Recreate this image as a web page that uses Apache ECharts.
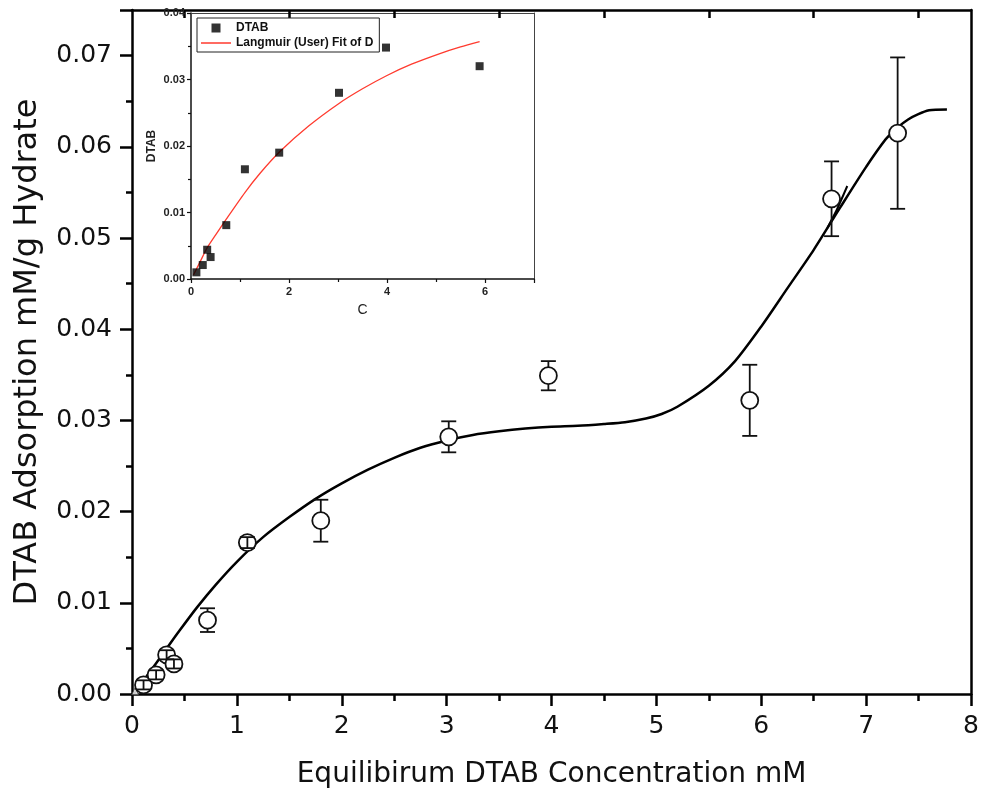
<!DOCTYPE html>
<html>
<head>
<meta charset="utf-8">
<script src="https://cdn.jsdelivr.net/npm/echarts@6/dist/echarts.min.js"></script>
<style>
html,body{margin:0;padding:0;background:#fff;}
#chart{width:982px;height:798px;}
</style>
</head>
<body>
<div id="chart"></div>
<script>
// ---- Main plot data ----
const concMM     = [0.11, 0.23, 0.33, 0.40, 0.72, 1.10, 1.80, 3.02, 3.97, 5.89, 6.67, 7.30];
const adsorption = [0.0010, 0.0021, 0.0043, 0.0033, 0.0081, 0.0166, 0.0190, 0.0282, 0.0349, 0.0322, 0.0543, 0.0615];
const adsErr     = [0.0005, 0.0005, 0.0005, 0.0005, 0.0013, 0.0006, 0.0023, 0.0017, 0.0016, 0.0039, 0.0041, 0.0083];

// main fitted curve (black)
const fitX = [0.02, 0.15, 0.30, 0.45, 0.62, 0.80, 1.00, 1.25, 1.50, 1.75, 2.00, 2.25, 2.50, 2.75, 3.00, 3.25, 3.50, 3.75, 4.00, 4.25, 4.50, 4.70, 4.90, 5.05, 5.20, 5.50, 5.75, 6.00, 6.25, 6.50, 6.75, 7.00, 7.20, 7.40, 7.60, 7.77];
const fitY = [0.0000, 0.0021, 0.0045, 0.0069, 0.0095, 0.0120, 0.0145, 0.0172, 0.0194, 0.0214, 0.0231, 0.0246, 0.0259, 0.0270, 0.0278, 0.0284, 0.0288, 0.0291, 0.0293, 0.0294, 0.0296, 0.0298, 0.0302, 0.0307, 0.0315, 0.0338, 0.0365, 0.0403, 0.0445, 0.0487, 0.0533, 0.0578, 0.0610, 0.0630, 0.0640, 0.0641];
// short second fit segment near x = 6.7
const fit2X = [6.63, 6.72, 6.82];
const fit2Y = [0.0511, 0.0531, 0.0557];
// tiny triangle marker at origin
const originX = [0.03];
const originY = [0.0003];

// ---- Inset data ----
const insetC    = [0.11, 0.24, 0.33, 0.40, 0.72, 1.10, 1.80, 3.02, 3.98, 5.89];
const insetDTAB = [0.0010, 0.0021, 0.0044, 0.0033, 0.0081, 0.0165, 0.0190, 0.0280, 0.0348, 0.0320];
const langX = [0.05, 0.20, 0.33, 0.50, 0.72, 1.10, 1.41, 1.82, 2.40, 3.02, 3.50, 4.00, 4.50, 5.08, 5.50, 5.89];
const langY = [0.0006, 0.0028, 0.0047, 0.0066, 0.0090, 0.0130, 0.0159, 0.0192, 0.0230, 0.0264, 0.0286, 0.0306, 0.0323, 0.0339, 0.0349, 0.0357];

// ---- Tick labels ----
const mainXTicks = [0, 1, 2, 3, 4, 5, 6, 7, 8];
const mainYTicks = ['0.00', '0.01', '0.02', '0.03', '0.04', '0.05', '0.06', '0.07'];

const zip = (a, b) => a.map((v, i) => [v, b[i]]);

const chart = echarts.init(document.getElementById('chart'), null, {renderer: 'canvas'});

const mainFont = 'DejaVu Sans';
const insetFont = 'Liberation Sans';
const axisLineMain = {show: true, onZero: false, lineStyle: {color: '#000', width: 2.5}};

const option = {
  animation: false,
  backgroundColor: '#fff',
  grid: [
    {left: 132, right: 10, top: 10, bottom: 104, containLabel: false},
    {left: 191, right: 448, top: 13, bottom: 519, containLabel: false}
  ],
  legend: {
    orient: 'vertical',
    left: 197, top: 18,
    padding: [4, 6, 3, 4],
    itemGap: 3,
    itemWidth: 30, itemHeight: 9,
    borderColor: '#222', borderWidth: 1,
    textStyle: {fontFamily: insetFont, fontSize: 12, fontWeight: 'bold', color: '#111'},
    data: [
      {name: 'DTAB', icon: 'path://M0 0H10V10H0Z'},
      {name: 'Langmuir (User) Fit of D', icon: 'path://M0 0H0.01V0.01H0Z M0 3.8H30V5.2H0Z M0 8.99H0.01V9H0Z'}
    ]
  },
  xAxis: [
    { // main bottom
      type: 'value', gridIndex: 0, min: 0, max: 8, interval: 1, position: 'bottom',
      name: 'Equilibirum DTAB Concentration mM', nameLocation: 'middle', nameGap: 67,
      nameTextStyle: {fontFamily: mainFont, fontSize: 28, color: '#111'},
      axisLine: axisLineMain,
      axisTick: {show: true, length: 12, lineStyle: {color: '#000', width: 2.5}},
      minorTick: {show: true, splitNumber: 2, length: 7, lineStyle: {color: '#000', width: 2.5}},
      axisLabel: {margin: 20, fontFamily: mainFont, fontSize: 25, color: '#111',
        formatter: v => (mainXTicks.indexOf(v) >= 0 ? String(v) : '')},
      splitLine: {show: false}
    },
    { // main top
      type: 'value', gridIndex: 0, min: 0, max: 8, interval: 1, position: 'top',
      axisLine: axisLineMain,
      axisTick: {show: false, inside: true},
      minorTick: {show: true, splitNumber: 2, length: 8, lineStyle: {color: '#000', width: 2.5}},
      axisLabel: {show: false}, splitLine: {show: false}
    },
    { // inset bottom
      type: 'value', gridIndex: 1, min: 0, max: 7, interval: 2, position: 'bottom',
      name: 'C', nameLocation: 'middle', nameGap: 24,
      nameTextStyle: {fontFamily: insetFont, fontSize: 14, color: '#222'},
      axisLine: {show: true, onZero: false, lineStyle: {color: '#111', width: 1.5}},
      axisTick: {show: true, length: 4, lineStyle: {color: '#111', width: 1.2}},
      minorTick: {show: true, splitNumber: 2, length: 3, lineStyle: {color: '#111', width: 1.2}},
      axisLabel: {margin: 7, fontFamily: insetFont, fontSize: 11, fontWeight: 'bold', color: '#222', showMaxLabel: false},
      splitLine: {show: false}
    },
    { // inset top
      type: 'value', gridIndex: 1, min: 0, max: 7, interval: 2, position: 'top',
      axisLine: {show: true, onZero: false, lineStyle: {color: '#444', width: 1}},
      axisTick: {show: false}, axisLabel: {show: false}, splitLine: {show: false}
    }
  ],
  yAxis: [
    { // main left
      type: 'value', gridIndex: 0, min: 0, max: 0.075, interval: 0.01, position: 'left',
      name: 'DTAB Adsorption mM/g Hydrate', nameLocation: 'middle', nameGap: 88,
      nameTextStyle: {fontFamily: mainFont, fontSize: 32, color: '#111'},
      axisLine: axisLineMain,
      axisTick: {show: true, length: 12, lineStyle: {color: '#000', width: 2.5}},
      minorTick: {show: true, splitNumber: 2, length: 6, lineStyle: {color: '#000', width: 2.5}},
      axisLabel: {margin: 20, fontFamily: mainFont, fontSize: 25, color: '#111', showMaxLabel: false,
        formatter: v => { const s = v.toFixed(2); return mainYTicks.indexOf(s) >= 0 ? s : ''; }},
      splitLine: {show: false}
    },
    { // main right
      type: 'value', gridIndex: 0, min: 0, max: 0.075, interval: 0.01, position: 'right',
      axisLine: axisLineMain,
      axisTick: {show: false}, axisLabel: {show: false}, splitLine: {show: false}
    },
    { // inset left
      type: 'value', gridIndex: 1, min: 0, max: 0.04, interval: 0.01, position: 'left',
      name: 'DTAB', nameLocation: 'middle', nameGap: 33,
      nameTextStyle: {fontFamily: insetFont, fontSize: 12, fontWeight: 'bold', color: '#222'},
      axisLine: {show: true, onZero: false, lineStyle: {color: '#111', width: 1.5}},
      axisTick: {show: true, length: 4, lineStyle: {color: '#111', width: 1.2}},
      minorTick: {show: true, splitNumber: 2, length: 3, lineStyle: {color: '#111', width: 1.2}},
      axisLabel: {margin: 6, fontFamily: insetFont, fontSize: 11, fontWeight: 'bold', color: '#222',
        formatter: v => v.toFixed(2)},
      splitLine: {show: false}
    },
    { // inset right
      type: 'value', gridIndex: 1, min: 0, max: 0.04, position: 'right',
      axisLine: {show: true, onZero: false, lineStyle: {color: '#444', width: 1}},
      axisTick: {show: false}, axisLabel: {show: false}, splitLine: {show: false}
    }
  ],
  series: [
    {
      name: 'fit', type: 'line', xAxisIndex: 0, yAxisIndex: 0,
      data: zip(fitX, fitY), smooth: 0.25, showSymbol: false, symbol: 'none',
      lineStyle: {color: '#000', width: 2.5}, z: 2
    },
    {
      name: 'fit2', type: 'line', xAxisIndex: 0, yAxisIndex: 0,
      data: zip(fit2X, fit2Y), smooth: 0.25, showSymbol: false, symbol: 'none',
      lineStyle: {color: '#000', width: 2}, z: 2
    },
    {
      name: 'origin', type: 'scatter', xAxisIndex: 0, yAxisIndex: 0,
      data: zip(originX, originY), symbol: 'triangle', symbolSize: 7,
      itemStyle: {color: '#fff', borderColor: '#333', borderWidth: 1}, z: 3
    },
    {
      name: 'points', type: 'scatter', xAxisIndex: 0, yAxisIndex: 0,
      data: zip(concMM, adsorption), symbol: 'circle', symbolSize: 17,
      itemStyle: {color: '#fff', borderColor: '#111', borderWidth: 1.8, opacity: 1}, z: 4
    },
    {
      name: 'errors', type: 'custom', xAxisIndex: 0, yAxisIndex: 0,
      data: concMM.map((x, i) => [x, adsorption[i], adsErr[i]]),
      z: 5,
      renderItem: function (params, api) {
        const x = api.value(0), y = api.value(1), e = api.value(2);
        const c = api.coord([x, y]);
        const t = api.coord([x, y + e]);
        const b = api.coord([x, y - e]);
        const r = 8.5, hw = 7.5;
        const st = {stroke: '#111', lineWidth: 1.8};
        const ch = [];
        if (c[1] - t[1] <= r) {
          ch.push({type: 'line', shape: {x1: c[0], y1: t[1], x2: c[0], y2: b[1]}, style: st});
        } else {
          ch.push({type: 'line', shape: {x1: c[0], y1: t[1], x2: c[0], y2: c[1] - r}, style: st});
          ch.push({type: 'line', shape: {x1: c[0], y1: c[1] + r, x2: c[0], y2: b[1]}, style: st});
        }
        ch.push({type: 'line', shape: {x1: c[0] - hw, y1: t[1], x2: c[0] + hw, y2: t[1]}, style: st});
        ch.push({type: 'line', shape: {x1: c[0] - hw, y1: b[1], x2: c[0] + hw, y2: b[1]}, style: st});
        return {type: 'group', children: ch};
      }
    },
    {
      name: 'DTAB', type: 'scatter', xAxisIndex: 2, yAxisIndex: 2,
      data: zip(insetC, insetDTAB), symbol: 'rect', symbolSize: 8, symbolKeepAspect: true,
      itemStyle: {color: '#000'}, z: 6
    },
    {
      name: 'Langmuir (User) Fit of D', type: 'line', xAxisIndex: 2, yAxisIndex: 2,
      data: zip(langX, langY), smooth: 0.25, showSymbol: false, symbol: 'none',
      itemStyle: {color: '#ff3b2f'},
      lineStyle: {color: '#ff3b2f', width: 1.3}, z: 5
    }
  ]
};

chart.setOption(option);
</script>
</body>
</html>
